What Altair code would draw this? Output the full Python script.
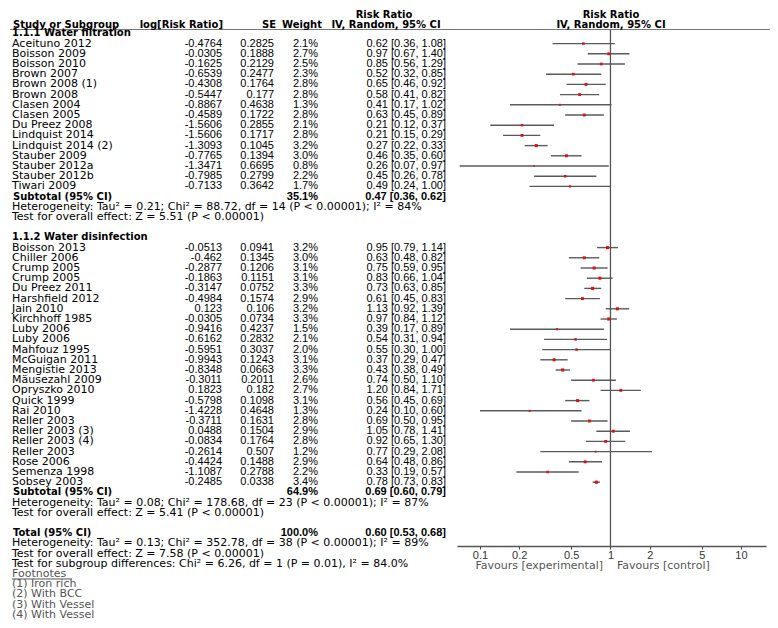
import altair as alt
import pandas as pd

FONT = "DejaVu Sans"
NUMFONT = "Liberation Sans"
FS = 11
FSB = 10

# ---------------- data ----------------
sections = ["1.1.1 Water filtration", "1.1.2 Water disinfection"]

names1 = ["Aceituno 2012", "Boisson 2009", "Boisson 2010", "Brown 2007", "Brown 2008 (1)", "Brown 2008",
          "Clasen 2004", "Clasen 2005", "Du Preez 2008", "Lindquist 2014", "Lindquist 2014 (2)",
          "Stauber 2009", "Stauber 2012a", "Stauber 2012b", "Tiwari 2009"]
logrr1 = ["-0.4764", "-0.0305", "-0.1625", "-0.6539", "-0.4308", "-0.5447", "-0.8867", "-0.4589",
          "-1.5606", "-1.5606", "-1.3093", "-0.7765", "-1.3471", "-0.7985", "-0.7133"]
se1 = ["0.2825", "0.1888", "0.2129", "0.2477", "0.1764", "0.177", "0.4638", "0.1722", "0.2855",
       "0.1717", "0.1045", "0.1394", "0.6695", "0.2799", "0.3642"]
w1 = [2.1, 2.7, 2.5, 2.3, 2.8, 2.8, 1.3, 2.8, 2.1, 2.8, 3.2, 3.0, 0.8, 2.2, 1.7]
rr1 = [0.62, 0.97, 0.85, 0.52, 0.65, 0.58, 0.41, 0.63, 0.21, 0.21, 0.27, 0.46, 0.26, 0.45, 0.49]
lo1 = [0.36, 0.67, 0.56, 0.32, 0.46, 0.41, 0.17, 0.45, 0.12, 0.15, 0.22, 0.35, 0.07, 0.26, 0.24]
hi1 = [1.08, 1.40, 1.29, 0.85, 0.92, 0.82, 1.02, 0.89, 0.37, 0.29, 0.33, 0.60, 0.97, 0.78, 1.00]

names2 = ["Boisson 2013", "Chiller 2006", "Crump 2005", "Crump 2005", "Du Preez 2011", "Harshfield 2012",
          "Jain 2010", "Kirchhoff 1985", "Luby 2006", "Luby 2006", "Mahfouz 1995", "McGuigan 2011",
          "Mengistie 2013", "Mäusezahl 2009", "Opryszko 2010", "Quick 1999", "Rai 2010", "Reller 2003",
          "Reller 2003 (3)", "Reller 2003 (4)", "Reller 2003", "Rose 2006", "Semenza 1998", "Sobsey 2003"]
logrr2 = ["-0.0513", "-0.462", "-0.2877", "-0.1863", "-0.3147", "-0.4984", "0.123", "-0.0305", "-0.9416",
          "-0.6162", "-0.5951", "-0.9943", "-0.8348", "-0.3011", "0.1823", "-0.5798", "-1.4228", "-0.3711",
          "0.0488", "-0.0834", "-0.2614", "-0.4424", "-1.1087", "-0.2485"]
se2 = ["0.0941", "0.1345", "0.1206", "0.1151", "0.0752", "0.1574", "0.106", "0.0734", "0.4237", "0.2832",
       "0.3037", "0.1243", "0.0663", "0.2011", "0.182", "0.1098", "0.4648", "0.1631", "0.1504", "0.1764",
       "0.507", "0.1488", "0.2788", "0.0338"]
w2 = [3.2, 3.0, 3.1, 3.1, 3.3, 2.9, 3.2, 3.3, 1.5, 2.1, 2.0, 3.1, 3.3, 2.6, 2.7, 3.1, 1.3, 2.8, 2.9, 2.8,
      1.2, 2.9, 2.2, 3.4]
rr2 = [0.95, 0.63, 0.75, 0.83, 0.73, 0.61, 1.13, 0.97, 0.39, 0.54, 0.55, 0.37, 0.43, 0.74, 1.20, 0.56,
       0.24, 0.69, 1.05, 0.92, 0.77, 0.64, 0.33, 0.78]
lo2 = [0.79, 0.48, 0.59, 0.66, 0.63, 0.45, 0.92, 0.84, 0.17, 0.31, 0.30, 0.29, 0.38, 0.50, 0.84, 0.45,
       0.10, 0.50, 0.78, 0.65, 0.29, 0.48, 0.19, 0.73]
hi2 = [1.14, 0.82, 0.95, 1.04, 0.85, 0.83, 1.39, 1.12, 0.89, 0.94, 1.00, 0.47, 0.49, 1.10, 1.71, 0.69,
       0.60, 0.95, 1.41, 1.30, 2.08, 0.86, 0.57, 0.83]

sum_labels = ["Subtotal (95% CI)", "Subtotal (95% CI)", "Total (95% CI)"]
sum_w = [35.1, 64.9, 100.0]
sum_rr = [0.47, 0.69, 0.60]
sum_lo = [0.36, 0.60, 0.53]
sum_hi = [0.62, 0.79, 0.68]

stats_lines = [
    "Heterogeneity: Tau² = 0.21; Chi² = 88.72, df = 14 (P < 0.00001); I² = 84%",
    "Test for overall effect: Z = 5.51 (P < 0.00001)",
    "Heterogeneity: Tau² = 0.08; Chi² = 178.68, df = 23 (P < 0.00001); I² = 87%",
    "Test for overall effect: Z = 5.41 (P < 0.00001)",
    "Heterogeneity: Tau² = 0.13; Chi² = 352.78, df = 38 (P < 0.00001); I² = 89%",
    "Test for overall effect: Z = 7.58 (P < 0.00001)",
    "Test for subgroup differences: Chi² = 6.26, df = 1 (P = 0.01), I² = 84.0%",
]
footnote_title = "Footnotes"
footnotes = ["(1) Iron rich", "(2) With BCC", "(3) With Vessel", "(4) With Vessel"]

header_top = "Risk Ratio"
header_cols = ["Study or Subgroup", "log[Risk Ratio]", "SE", "Weight", "IV, Random, 95% CI"]
favours = ["Favours [experimental]", "Favours [control]"]
tick_values = [0.1, 0.2, 0.5, 1, 2, 5, 10]

# ---------------- row layout ----------------
rows1 = list(range(3, 3 + len(names1)))
rows2 = list(range(23, 23 + len(names2)))
sum_rows = [18, 47, 51]
stats_rows = [19, 20, 48, 49, 52, 53, 54]
section_rows = [2, 22]
foot_title_row = 55
foot_rows = [56, 57, 58, 59]


def fmt_ci(r, lo, hi):
    return f"{r:.2f} [{lo:.2f}, {hi:.2f}]"


studies = pd.DataFrame({
    "row": rows1 + rows2,
    "name": names1 + names2,
    "logrr": logrr1 + logrr2,
    "se": se1 + se2,
    "w": w1 + w2,
    "rr": rr1 + rr2,
    "lo": lo1 + lo2,
    "hi": hi1 + hi2,
})
studies["wtxt"] = studies["w"].map(lambda v: f"{v:.1f}%")
studies["citxt"] = [fmt_ci(r, l, h) for r, l, h in zip(studies.rr, studies.lo, studies.hi)]

summ = pd.DataFrame({"row": sum_rows, "label": sum_labels, "w": sum_w,
                     "rr": sum_rr, "lo": sum_lo, "hi": sum_hi})
summ["wtxt"] = summ["w"].map(lambda v: f"{v:.1f}%")
summ["citxt"] = [fmt_ci(r, l, h) for r, l, h in zip(summ.rr, summ.lo, summ.hi)]

HALF = 0.45
dia = []
for i, s in summ.iterrows():
    dia.append({"g": i, "x": s.lo, "y": s.row, "y2": s.row})
    dia.append({"g": i, "x": s.rr, "y": s.row - HALF, "y2": s.row + HALF})
    dia.append({"g": i, "x": s.hi, "y": s.row, "y2": s.row})
dia = pd.DataFrame(dia)

stats = pd.DataFrame({"row": stats_rows, "t": stats_lines})
secs = pd.DataFrame({"row": section_rows, "t": sections})
foots = pd.DataFrame({"row": [foot_title_row] + foot_rows, "t": [footnote_title] + footnotes})

# ---------------- scales ----------------
ysc = alt.Scale(domain=[-0.4902, 59.5098], range=[0, 612], nice=False, zero=False)
xsc = alt.Scale(type="log", domain=[0.0667, 15.55], range=[449, 758], nice=False)
xaxis = alt.Axis(values=tick_values, format="~g", offset=-74, grid=False, title=None,
                 domainColor="#555555", domainWidth=1.3, tickColor="#444444",
                 tickSize=3, labelPadding=0, labelFont=NUMFONT, labelFontSize=11,
                 labelColor="#333333", labelFlush=False, labelOverlap=False)

AXIS_ROW = 52.26
LINE_ROW = 1.62


def Y(field="row"):
    return alt.Y(f"{field}:Q", scale=ysc, axis=None)


def X(field):
    return alt.X(f"{field}:Q", scale=xsc, axis=xaxis, title=None)


def text_layer(df, field, x, align="left", bold=False, color="#000000", font=None, size=None):
    f = font or FONT
    s = size or (FSB if bold else FS)
    return alt.Chart(df).mark_text(
        align=align, baseline="middle", font=f, fontSize=s,
        fontWeight="bold" if bold else "normal", color=color
    ).encode(x=alt.value(x), y=Y(), text=alt.Text(f"{field}:N"))


def one(row, t, x, align="left", bold=False, color="#000000", font=None, size=None):
    return text_layer(pd.DataFrame({"row": [row], "t": [t]}), "t", x, align, bold, color, font, size)


# header line
hline = alt.Chart(pd.DataFrame({"row": [LINE_ROW]})).mark_rule(color="#777777", strokeWidth=1).encode(
    y=Y(), x=alt.value(2), x2=alt.value(762))

# null line at RR = 1
vline = alt.Chart(pd.DataFrame({"x": [1.0], "a": [LINE_ROW], "b": [AXIS_ROW]})).mark_rule(
    color="#555555", strokeWidth=1.3).encode(x=X("x"), y=Y("a"), y2="b:Q")

# confidence intervals
ci = alt.Chart(studies).mark_rule(color="#5a5a5a", strokeWidth=1.4).encode(
    x=X("lo"), x2="hi:Q", y=Y())

pts = alt.Chart(studies).mark_square(color="#e01010", opacity=1).encode(
    x=X("rr"), y=Y(),
    size=alt.Size("w:Q", scale=alt.Scale(domain=[0, 3.4], range=[0, 10]), legend=None))

diamonds = alt.Chart(dia).mark_area(color="black", orient="vertical", opacity=1).encode(
    x=X("x"), y=Y("y"), y2="y2:Q", detail="g:N", order="x:Q")

layers = [hline, vline, ci, pts, diamonds]

# headers
layers += [
    one(0.2, header_top, 376, "center", True),
    one(0.2, header_top, 603, "center", True),
    one(1.17, header_cols[0], 5, "left", True),
    one(1.17, header_cols[1], 215, "right", True),
    one(1.17, header_cols[2], 268, "right", True),
    one(1.17, header_cols[3], 314, "right", True),
    one(1.17, header_cols[4], 378, "center", True),
    one(1.17, header_cols[4], 603, "center", True),
]

# study columns
layers += [
    text_layer(studies, "name", 4),
    text_layer(studies, "logrr", 214, "right", font=NUMFONT),
    text_layer(studies, "se", 266, "right", font=NUMFONT),
    text_layer(studies, "wtxt", 310, "right", font=NUMFONT),
    text_layer(studies, "citxt", 438, "right", font=NUMFONT),
]

# summaries and notes
layers += [
    text_layer(summ, "label", 5, "left", True),
    text_layer(summ, "wtxt", 310, "right", True, font=NUMFONT, size=11),
    text_layer(summ, "citxt", 438, "right", True, font=NUMFONT, size=11),
    text_layer(secs, "t", 4, "left", True),
    text_layer(stats, "t", 4),
    text_layer(foots, "t", 4, "left", False, "#555555"),
]

# footnotes underline
uline = alt.Chart(pd.DataFrame({"row": [foot_title_row]})).mark_rule(
    color="#555555", strokeWidth=1, yOffset=5).encode(y=Y(), x=alt.value(4), x2=alt.value(64))
layers.append(uline)

# favours labels
layers += [
    one(54.25, favours[0], 595, "right", False, "#555555"),
    one(54.25, favours[1], 609, "left", False, "#555555"),
]

chart = alt.layer(*layers).properties(
    width=762, height=612, padding=0,
    autosize=alt.AutoSizeParams(type="none"),
).configure_view(stroke=None)

chart.save("out.html", embed_options={"renderer": "svg", "actions": False})
